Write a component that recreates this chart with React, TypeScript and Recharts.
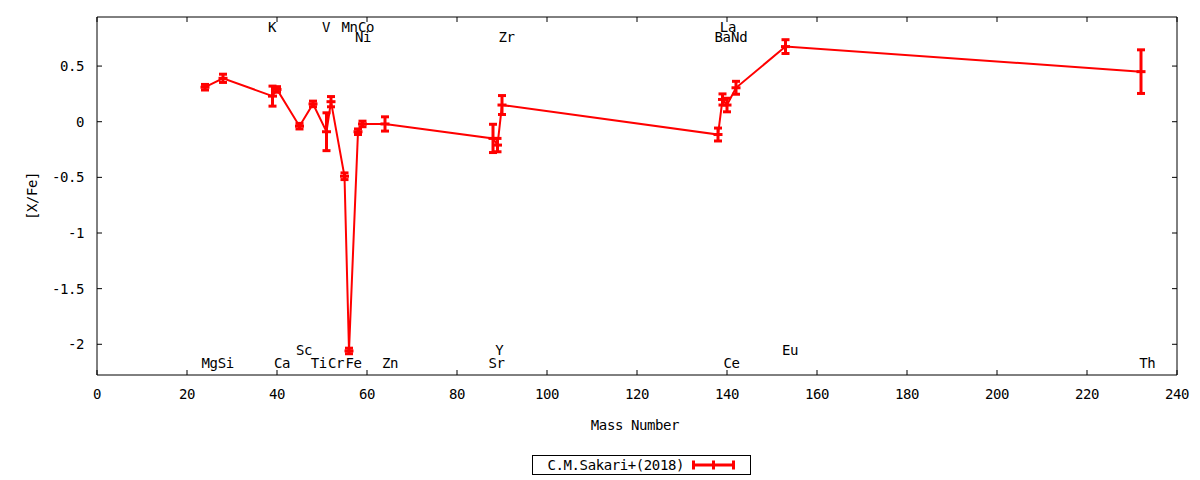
import React from 'react';
import { ComposedChart, Line, Scatter, XAxis, YAxis, ErrorBar, Legend } from 'recharts';

const FONT = '"DejaVu Sans Mono", monospace';
const FS = 14;
const LS = '-0.4px';
const RED = '#ff0000';

// Measured abundances (Sakari+ 2018)
const elements = ['Mg', 'Si', 'K', 'Ca', 'Sc', 'Ti', 'V', 'Cr', 'Mn', 'Fe', 'Ni', 'Co', 'Zn', 'Sr', 'Y', 'Zr', 'Ba', 'La', 'Ce', 'Nd', 'Eu', 'Th'];
const masses = [24, 28, 39, 40, 45, 48, 51, 52, 55, 56, 58, 59, 64, 88, 89, 90, 138, 139, 140, 142, 153, 232];
const xfe = [0.31, 0.39, 0.23, 0.29, -0.04, 0.16, -0.09, 0.18, -0.49, -2.06, -0.09, -0.02, -0.02, -0.15, -0.21, 0.15, -0.115, 0.2, 0.15, 0.305, 0.675, 0.45];
const errs = [0.025, 0.037, 0.09, 0.025, 0.025, 0.025, 0.17, 0.046, 0.03, 0.025, 0.025, 0.025, 0.064, 0.127, 0.06, 0.085, 0.058, 0.05, 0.061, 0.058, 0.062, 0.196];

// Element name labels drawn in the plot
const labelNames = ['K', 'V', 'Mn', 'Co', 'La', 'Ni', 'Zr', 'Ba', 'Nd', 'Sc', 'Y', 'Eu', 'Mg', 'Si', 'Ca', 'Ti', 'Cr', 'Fe', 'Zn', 'Sr', 'Ce', 'Th'];
const labelX = [38.9, 50.9, 56.1, 59.8, 140.2, 59.1, 91.0, 139.0, 142.7, 46.0, 89.4, 154.0, 25.0, 28.6, 41.1, 49.3, 53.1, 57.0, 65.1, 88.8, 141.0, 233.4];
const labelY = [0.85, 0.85, 0.85, 0.85, 0.85, 0.76, 0.76, 0.76, 0.76, -2.05, -2.05, -2.05, -2.17, -2.17, -2.17, -2.17, -2.17, -2.17, -2.17, -2.17, -2.17, -2.17];

const xTicks = [0, 20, 40, 60, 80, 100, 120, 140, 160, 180, 200, 220, 240];
const yTicks = [-2, -1.5, -1, -0.5, 0, 0.5];
const xDomain = [0, 240];
const yDomain = [-2.276, 0.941];

const seriesData = masses.map((m, i) => ({ mass: m, v: xfe[i], err: errs[i], el: elements[i] }));
const labelData = labelNames.map((n, i) => ({ mass: labelX[i], y: labelY[i], name: n }));

const tickStyle = { fill: '#000', fontSize: FS, fontFamily: FONT, letterSpacing: LS };
const NoTick = () => <g />;

const CenterMark = (props: any) => {
  const { cx, cy, index } = props;
  if (cx == null || cy == null) return <g key={`d${index}`} />;
  return <rect key={`d${index}`} x={cx - 4.5} y={cy - 1.5} width={9} height={3} fill={RED} />;
};

const NameLabel = (props: any) => {
  const { cx, cy, payload } = props;
  return (
    <text x={cx} y={cy} dy="0.35em" textAnchor="middle" fill="#000" fontSize={FS} fontFamily={FONT} letterSpacing={LS}>
      {payload.name}
    </text>
  );
};

const LegendBox = () => (
  <div
    style={{
      position: 'relative',
      width: 219,
      height: 20,
      border: '1px solid #000',
      boxSizing: 'border-box',
      background: '#fff',
      fontFamily: FONT,
      fontSize: FS,
      letterSpacing: LS,
      color: '#000',
    }}
  >
    <span style={{ position: 'absolute', left: 0, top: 0, width: 151, textAlign: 'right', lineHeight: '18px', whiteSpace: 'nowrap' }}>
      C.M.Sakari+(2018)
    </span>
    <svg style={{ position: 'absolute', left: 159, top: 0 }} width={44} height={18}>
      <line x1={1.5} y1={9} x2={42} y2={9} stroke={RED} strokeWidth={3} />
      <line x1={1.5} y1={4.5} x2={1.5} y2={13.5} stroke={RED} strokeWidth={3} />
      <line x1={21.5} y1={4.5} x2={21.5} y2={13.5} stroke={RED} strokeWidth={3} />
      <line x1={41.5} y1={4.5} x2={41.5} y2={13.5} stroke={RED} strokeWidth={3} />
    </svg>
  </div>
);

export default function App() {
  return (
    <div style={{ position: 'absolute', left: 0, top: 0, width: 1200, height: 480, background: '#fff' }}>
      <ComposedChart width={1200} height={480} margin={{ top: 16, right: 22, bottom: 75, left: 37 }}>
        <XAxis
          xAxisId="b"
          dataKey="mass"
          type="number"
          domain={xDomain}
          ticks={xTicks}
          interval={0}
          allowDataOverflow
          orientation="bottom"
          height={30}
          tickSize={-5}
          tickMargin={19}
          stroke="#000"
          tick={tickStyle}
          label={{
            content: (p: any) => {
              const vb = p.viewBox || { x: 97, y: 375, width: 1080, height: 30 };
              return (
                <text x={vb.x + vb.width / 2 - 2} y={vb.y + 50} dy="0.35em" textAnchor="middle" fill="#000" fontSize={FS} fontFamily={FONT} letterSpacing={LS}>
                  Mass Number
                </text>
              );
            },
          }}
        />
        <XAxis
          xAxisId="t"
          dataKey="mass"
          type="number"
          domain={xDomain}
          ticks={xTicks}
          interval={0}
          allowDataOverflow
          orientation="top"
          height={1}
          tickSize={-5}
          stroke="#000"
          tick={NoTick}
        />
        <YAxis
          yAxisId="l"
          type="number"
          domain={yDomain}
          ticks={yTicks}
          interval={0}
          allowDataOverflow
          orientation="left"
          width={60}
          tickSize={-5}
          tickMargin={18}
          stroke="#000"
          tick={tickStyle}
          label={{
            content: (p: any) => {
              const vb = p.viewBox || { x: 37, y: 17, width: 60, height: 358 };
              const cx = vb.x + vb.width - 65;
              const cy = vb.y + vb.height / 2;
              return (
                <text x={cx} y={cy} dy="0.35em" textAnchor="middle" fill="#000" fontSize={FS} fontFamily={FONT} letterSpacing={LS} transform={`rotate(-90 ${cx} ${cy})`}>
                  [X/Fe]
                </text>
              );
            },
          }}
        />
        <YAxis
          yAxisId="r"
          type="number"
          domain={yDomain}
          ticks={yTicks}
          interval={0}
          allowDataOverflow
          orientation="right"
          width={1}
          tickSize={-5}
          stroke="#000"
          tick={NoTick}
        />
        <Legend
          layout="vertical"
          align="center"
          verticalAlign="middle"
          wrapperStyle={{ left: 532, top: 455, width: 219, height: 20 }}
          content={() => <LegendBox />}
        />
        <Line
          xAxisId="b"
          yAxisId="l"
          data={seriesData}
          dataKey="v"
          name="C.M.Sakari+(2018)"
          type="linear"
          stroke={RED}
          strokeWidth={2}
          dot={CenterMark}
          activeDot={false}
          isAnimationActive={false}
        >
          <ErrorBar dataKey="err" direction="y" width={4} strokeWidth={3} stroke={RED} isAnimationActive={false} />
        </Line>
        <Scatter
          xAxisId="b"
          yAxisId="l"
          data={labelData}
          dataKey="y"
          shape={NameLabel}
          legendType="none"
          isAnimationActive={false}
        />
      </ComposedChart>
    </div>
  );
}
